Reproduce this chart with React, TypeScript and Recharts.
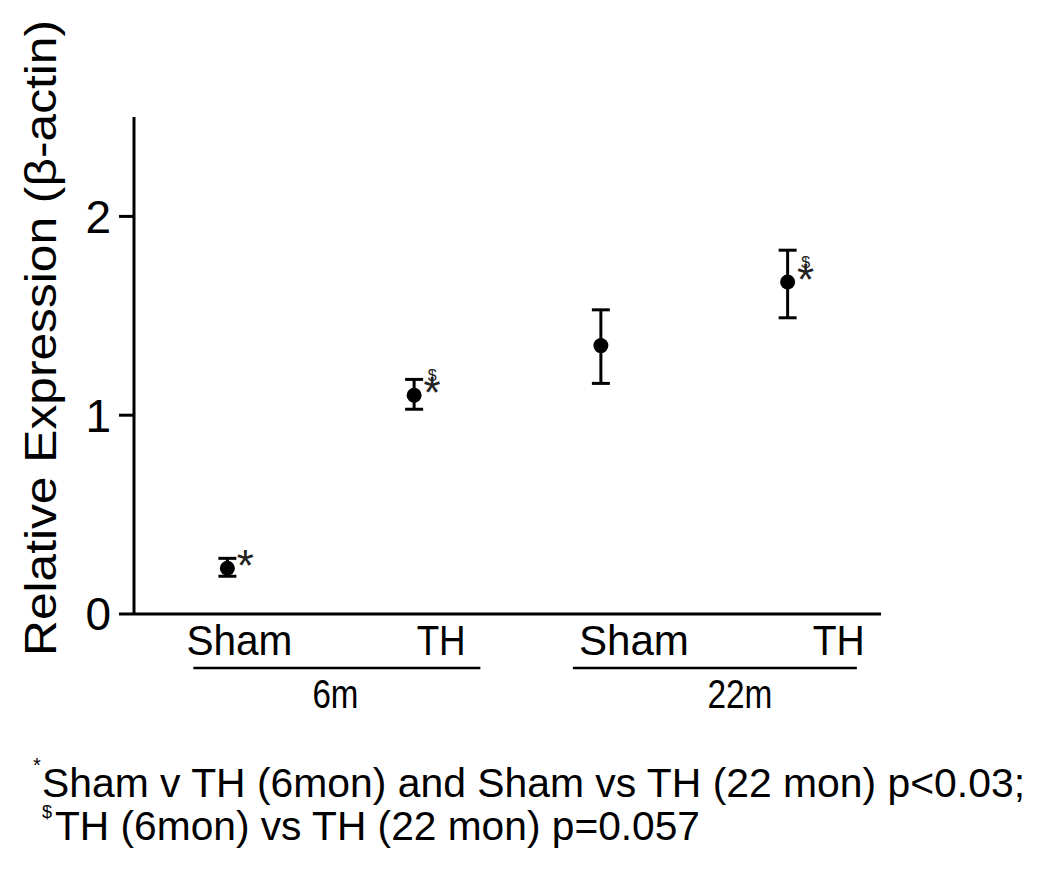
import React from 'react';
import { ScatterChart, Scatter, XAxis, YAxis, ErrorBar } from 'recharts';

const categories = ['Sham', 'TH', 'Sham', 'TH'];
const groups = ['6m', '22m'];
const means = [0.23, 1.1, 1.35, 1.67];
const lower = [0.19, 1.03, 1.16, 1.49];
const upper = [0.28, 1.18, 1.53, 1.83];
const marks = ['*', '$*', '', '$*'];
const yTicks = [0, 1, 2];

const FONT = "'Liberation Sans Narrow', 'Liberation Sans', Arial, sans-serif";

const data = categories.map((c, i) => ({
  x: i + 1,
  y: means[i],
  err: [means[i] - lower[i], upper[i] - means[i]],
  mark: marks[i],
}));

// label widths/offsets to match the figure's spacing
const catLabel = [
  { dx: 12, w: 106 },
  { dx: 27, w: 49 },
  { dx: 33, w: 110 },
  { dx: 51, w: 52 },
];
// group underline + label, relative to the first tick of each group
const groupStyle = [
  { x1: -34, x2: 253, tx: 108, w: 46 },
  { x1: -28, x2: 256, tx: 139, w: 65 },
];

function CatTick(props: any) {
  const { x, y, payload, index } = props;
  const s = catLabel[index] ?? { dx: 0, w: 60 };
  const g = index % 2 === 0 ? groupStyle[index / 2] : null;
  return (
    <g>
      <text x={x + s.dx} y={y + 41} textAnchor="middle" fontFamily={FONT} fontSize={42} fill="#000"
        textLength={s.w} lengthAdjust="spacingAndGlyphs">
        {categories[payload.value - 1]}
      </text>
      {g && (
        <g>
          <line x1={x + g.x1} x2={x + g.x2} y1={y + 54} y2={y + 54} stroke="#000" strokeWidth={2.5} />
          <text x={x + g.tx} y={y + 94} textAnchor="middle" fontFamily={FONT} fontSize={40} fill="#000"
            textLength={g.w} lengthAdjust="spacingAndGlyphs">
            {groups[index / 2]}
          </text>
        </g>
      )}
    </g>
  );
}

function Dot(props: any) {
  const { cx, cy, payload } = props;
  const m: string = payload.mark;
  return (
    <g>
      <circle cx={cx} cy={cy} r={7.5} fill="#000" />
      {m.includes('*') && (
        <text x={cx + 18} y={cy + 13} textAnchor="middle" fontFamily={FONT} fontSize={44} fill="#222">*</text>
      )}
      {m.includes('$') && (
        <text x={cx + 18} y={cy - 14} textAnchor="middle" fontFamily={FONT} fontSize={16} fill="#222">$</text>
      )}
    </g>
  );
}

function YTitle() {
  return (
    <text transform="translate(56, 338) rotate(-90)" textAnchor="middle" fontFamily={FONT} fontSize={44} fill="#000"
      textLength={636} lengthAdjust="spacingAndGlyphs">
      Relative Expression (β-actin)
    </text>
  );
}

export default function App() {
  return (
    <div style={{ position: 'absolute', left: 0, top: 0, width: 1050, height: 880, background: '#fff' }}>
      <ScatterChart width={1050} height={880} margin={{ top: 117, right: 169, bottom: 166, left: 74 }}>
        <XAxis
          dataKey="x"
          type="number"
          domain={[0.5, 4.5]}
          ticks={[1, 2, 3, 4]}
          tick={<CatTick />}
          tickLine={false}
          tickSize={0}
          tickMargin={0}
          height={100}
          axisLine={{ stroke: '#000', strokeWidth: 3 }}
          allowDataOverflow
        />
        <YAxis
          dataKey="y"
          type="number"
          domain={[0, 2.5]}
          ticks={yTicks}
          width={60}
          tickSize={15}
          tickMargin={8}
          tick={{ fontSize: 46, fill: '#000', fontFamily: FONT }}
          tickLine={{ stroke: '#000', strokeWidth: 3 }}
          axisLine={{ stroke: '#000', strokeWidth: 3 }}
          label={{ content: () => <YTitle /> }}
        />
        <Scatter data={data} shape={<Dot />} isAnimationActive={false}>
          <ErrorBar dataKey="err" direction="y" width={9} stroke="#000" strokeWidth={3} isAnimationActive={false} />
        </Scatter>
      </ScatterChart>
      <svg width={1050} height={880} style={{ position: 'absolute', left: 0, top: 0, pointerEvents: 'none' }}>
        <text x={33} y={772} fontFamily={FONT} fontSize={20} fill="#000">*</text>
        <text x={42} y={797} fontFamily={FONT} fontSize={40} fill="#000" textLength={983} lengthAdjust="spacingAndGlyphs">
          Sham v TH (6mon) and Sham vs TH (22 mon) p&lt;0.03;
        </text>
        <text x={42} y={818} fontFamily={FONT} fontSize={18} fill="#000">$</text>
        <text x={55} y={840} fontFamily={FONT} fontSize={40} fill="#000" textLength={645} lengthAdjust="spacingAndGlyphs">
          TH (6mon) vs TH (22 mon) p=0.057
        </text>
      </svg>
    </div>
  );
}
